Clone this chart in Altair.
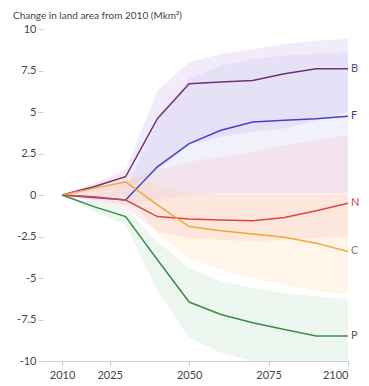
import altair as alt
import pandas as pd

years = [2010, 2020, 2030, 2040, 2050, 2060, 2070, 2080, 2090, 2100]
series = ["B", "F", "N", "C", "P"]

B_mid = [0, 0.5, 1.1, 4.6, 6.7, 6.8, 6.9, 7.3, 7.6, 7.6]
B_hi = [0, 0.7, 1.5, 6.3, 8.0, 8.5, 8.8, 9.1, 9.3, 9.4]
B_lo = [0, 0.2, 0.3, 1.5, 3.0, 3.5, 3.8, 4.0, 4.5, 5.0]

F_mid = [0, -0.15, -0.3, 1.7, 3.1, 3.9, 4.4, 4.5, 4.6, 4.75]
F_hi = [0, 0.1, 0.3, 4.5, 7.0, 7.8, 8.2, 8.4, 8.5, 8.6]
F_lo = [0, -0.3, -0.6, -0.3, 0.0, 0.1, 0.1, 0.1, 0.1, 0.1]

N_mid = [0, -0.1, -0.3, -1.3, -1.45, -1.5, -1.55, -1.35, -0.95, -0.5]
N_hi = [0, 0.3, 0.8, 1.5, 2.0, 2.3, 2.6, 3.0, 3.3, 3.6]
N_lo = [0, -0.4, -0.8, -2.2, -2.6, -2.7, -2.8, -2.7, -2.6, -2.5]

C_mid = [0, 0.4, 0.8, -0.6, -1.9, -2.15, -2.35, -2.55, -2.9, -3.4]
C_hi = [0, 0.7, 1.3, 0.6, 0.1, 0.0, 0.0, 0.0, 0.0, 0.0]
C_lo = [0, 0.1, 0.0, -2.3, -3.8, -4.5, -5.0, -5.4, -5.8, -6.0]

P_mid = [0, -0.7, -1.3, -3.9, -6.45, -7.2, -7.7, -8.1, -8.5, -8.5]
P_hi = [0, -0.4, -0.8, -2.8, -4.4, -5.2, -5.6, -5.9, -6.1, -6.3]
P_lo = [0, -1.0, -1.8, -5.8, -8.6, -9.5, -10.0, -10.0, -10.0, -10.0]

line_colors = ["#70307a", "#4242d0", "#e2443c", "#f2a53a", "#3a8c48"]
band_colors = ["#c3a3ea", "#bfbff2", "#f6b2b6", "#fdd09c", "#b2dcb4"]
label_colors = ["#6e4a78", "#3a3a9a", "#d04040", "#8a7a66", "#555555"]
title_text = "Change in land area from 2010 (Mkm²)"

mids = {"B": B_mid, "F": F_mid, "N": N_mid, "C": C_mid, "P": P_mid}
his = {"B": B_hi, "F": F_hi, "N": N_hi, "C": C_hi, "P": P_hi}
los = {"B": B_lo, "F": F_lo, "N": N_lo, "C": C_lo, "P": P_lo}

rows = []
for s in series:
    for i, y in enumerate(years):
        rows.append({"year": y, "series": s, "mid": mids[s][i], "hi": his[s][i], "lo": los[s][i]})
df = pd.DataFrame(rows)
end = df[df["year"] == 2100]

xs = alt.Scale(domain=[2004, 2100], nice=False)
ys = alt.Scale(domain=[-10, 10], nice=False)

x = alt.X("year:Q", scale=xs, axis=alt.Axis(
    values=[2010, 2025, 2050, 2075, 2100], format="d", title=None, grid=False,
    domainColor="#cccccc", tickColor="#cccccc", tickSize=5, labelPadding=3,
    labelColor="#444444", labelFontSize=11, labelFont="Lato"))
y_axis = alt.Axis(values=[-10, -7.5, -5, -2.5, 0, 2.5, 5, 7.5, 10], labelExpr="'' + datum.value",
                  title=None, grid=False, domain=False, tickColor="#cccccc", tickSize=5,
                  labelPadding=2, labelColor="#444444", labelFontSize=11, labelFont="Lato")

bands = alt.Chart(df).mark_area(opacity=0.22).encode(
    x=x,
    y=alt.Y("lo:Q", scale=ys, axis=y_axis),
    y2="hi:Q",
    color=alt.Color("series:N", scale=alt.Scale(domain=series, range=band_colors), legend=None),
    detail="series:N",
)

lines = alt.Chart(df).mark_line(strokeWidth=1.5).encode(
    x=alt.X("year:Q", scale=xs),
    y=alt.Y("mid:Q", scale=ys),
    stroke=alt.Stroke("series:N", scale=alt.Scale(domain=series, range=line_colors), legend=None),
    detail="series:N",
)

labels = alt.Chart(end).mark_text(align="left", dx=3, fontSize=11, font="Lato").encode(
    x=alt.X("year:Q", scale=xs),
    y=alt.Y("mid:Q", scale=ys),
    text="series:N",
    fill=alt.Fill("series:N", scale=alt.Scale(domain=series, range=label_colors), legend=None),
)

title = alt.Chart(pd.DataFrame({"t": [title_text]})).mark_text(
    align="left", baseline="alphabetic", fontSize=10, font="Lato", color="#444444"
).encode(x=alt.value(-30), y=alt.value(-10), text="t:N")

chart = alt.layer(bands, lines, labels, title).resolve_scale(
    color="independent", stroke="independent", fill="independent"
).properties(
    width=305, height=332,
    autosize=alt.AutoSizeParams(type="none"),
    padding={"left": 35, "top": 21, "right": 13, "bottom": 24},
).configure_view(stroke=None)

chart.save("out.html", embed_options={"renderer": "svg", "actions": False})
